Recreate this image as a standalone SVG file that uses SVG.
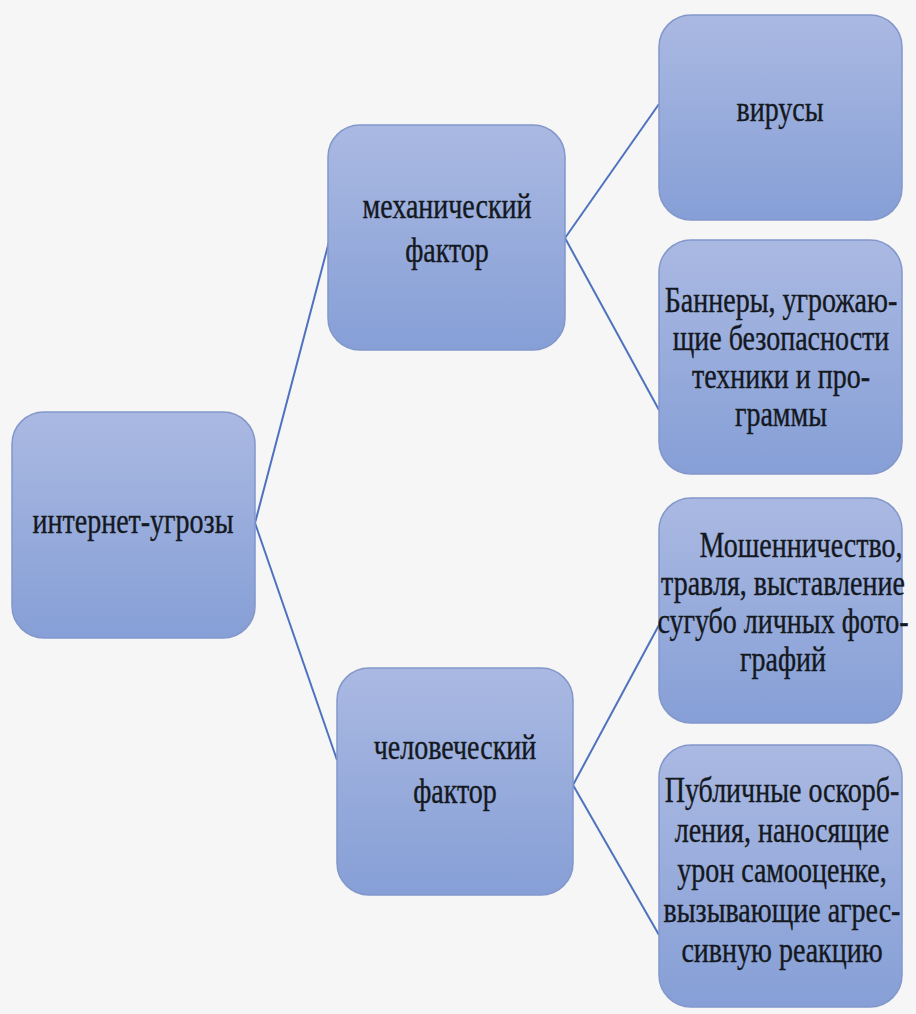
<svg xmlns="http://www.w3.org/2000/svg" width="916" height="1014" viewBox="0 0 916 1014">
<defs>
<linearGradient id="g" x1="0" y1="0" x2="0" y2="1">
<stop offset="0" stop-color="#aab9e2"/>
<stop offset="1" stop-color="#869fd6"/>
</linearGradient>
<style>
.box{fill:url(#g);stroke:#8397cb;stroke-width:1.5}
.c{stroke:#4e72c0;stroke-width:2;fill:none}
</style>
</defs>
<rect width="916" height="1014" fill="#f6f6f6"/>
<g id="connectors">
<line class="c" x1="255" y1="523" x2="330" y2="238"/>
<line class="c" x1="255" y1="523" x2="337" y2="760"/>
<line class="c" x1="565" y1="238" x2="659" y2="104"/>
<line class="c" x1="565" y1="238" x2="659" y2="410"/>
<line class="c" x1="573" y1="785" x2="659" y2="625"/>
<line class="c" x1="573" y1="785" x2="659" y2="935"/>
</g>
<g id="root">
<rect class="box" x="12" y="412" width="243" height="226" rx="32"/>
<text x="0" y="0" transform="translate(133,533) scale(1,1.25)" font-family="Liberation Serif" font-size="28" fill="#141820" stroke="#141820" stroke-width="0.3" text-anchor="middle">интернет-угрозы</text>
</g>
<g id="mech">
<rect class="box" x="328" y="125" width="237" height="225" rx="32"/>
<text x="0" y="0" transform="translate(447,218) scale(1,1.25)" font-family="Liberation Serif" font-size="28" fill="#141820" stroke="#141820" stroke-width="0.3" text-anchor="middle">механический</text>
<text x="0" y="0" transform="translate(447,262) scale(1,1.25)" font-family="Liberation Serif" font-size="28" fill="#141820" stroke="#141820" stroke-width="0.3" text-anchor="middle">фактор</text>
</g>
<g id="human">
<rect class="box" x="337" y="668" width="236" height="227" rx="32"/>
<text x="0" y="0" transform="translate(455,759) scale(1,1.25)" font-family="Liberation Serif" font-size="28" fill="#141820" stroke="#141820" stroke-width="0.3" text-anchor="middle">человеческий</text>
<text x="0" y="0" transform="translate(455,803) scale(1,1.25)" font-family="Liberation Serif" font-size="28" fill="#141820" stroke="#141820" stroke-width="0.3" text-anchor="middle">фактор</text>
</g>
<g id="virus">
<rect class="box" x="659" y="15" width="243" height="205" rx="32"/>
<text x="0" y="0" transform="translate(780,121) scale(1,1.25)" font-family="Liberation Serif" font-size="28" fill="#141820" stroke="#141820" stroke-width="0.3" text-anchor="middle">вирусы</text>
</g>
<g id="banners">
<rect class="box" x="659" y="240" width="243" height="234" rx="32"/>
<text x="0" y="0" transform="translate(781,312) scale(1,1.25)" font-family="Liberation Serif" font-size="28" fill="#141820" stroke="#141820" stroke-width="0.3" text-anchor="middle">Баннеры, угрожаю-</text>
<text x="0" y="0" transform="translate(781,350) scale(1,1.25)" font-family="Liberation Serif" font-size="28" fill="#141820" stroke="#141820" stroke-width="0.3" text-anchor="middle">щие безопасности</text>
<text x="0" y="0" transform="translate(781,388) scale(1,1.25)" font-family="Liberation Serif" font-size="28" fill="#141820" stroke="#141820" stroke-width="0.3" text-anchor="middle">техники и про-</text>
<text x="0" y="0" transform="translate(781,426) scale(1,1.25)" font-family="Liberation Serif" font-size="28" fill="#141820" stroke="#141820" stroke-width="0.3" text-anchor="middle">граммы</text>
</g>
<g id="fraud">
<rect class="box" x="659" y="498" width="243" height="225" rx="32"/>
<text x="0" y="0" transform="translate(801,557) scale(1,1.25)" font-family="Liberation Serif" font-size="28" fill="#141820" stroke="#141820" stroke-width="0.3" text-anchor="middle">Мошенничество,</text>
<text x="0" y="0" transform="translate(783,595) scale(1,1.25)" font-family="Liberation Serif" font-size="28" fill="#141820" stroke="#141820" stroke-width="0.3" text-anchor="middle">травля, выставление</text>
<text x="0" y="0" transform="translate(783,633) scale(1,1.25)" font-family="Liberation Serif" font-size="28" fill="#141820" stroke="#141820" stroke-width="0.3" text-anchor="middle">сугубо личных фото-</text>
<text x="0" y="0" transform="translate(783,671) scale(1,1.25)" font-family="Liberation Serif" font-size="28" fill="#141820" stroke="#141820" stroke-width="0.3" text-anchor="middle">графий</text>
</g>
<g id="insults">
<rect class="box" x="659" y="745" width="243" height="262" rx="32"/>
<text x="0" y="0" transform="translate(782,802) scale(1,1.25)" font-family="Liberation Serif" font-size="28" fill="#141820" stroke="#141820" stroke-width="0.3" text-anchor="middle">Публичные оскорб-</text>
<text x="0" y="0" transform="translate(782,842) scale(1,1.25)" font-family="Liberation Serif" font-size="28" fill="#141820" stroke="#141820" stroke-width="0.3" text-anchor="middle">ления, наносящие</text>
<text x="0" y="0" transform="translate(782,882) scale(1,1.25)" font-family="Liberation Serif" font-size="28" fill="#141820" stroke="#141820" stroke-width="0.3" text-anchor="middle">урон самооценке,</text>
<text x="0" y="0" transform="translate(782,922) scale(1,1.25)" font-family="Liberation Serif" font-size="28" fill="#141820" stroke="#141820" stroke-width="0.3" text-anchor="middle">вызывающие агрес-</text>
<text x="0" y="0" transform="translate(782,962) scale(1,1.25)" font-family="Liberation Serif" font-size="28" fill="#141820" stroke="#141820" stroke-width="0.3" text-anchor="middle">сивную реакцию</text>
</g>
</svg>
